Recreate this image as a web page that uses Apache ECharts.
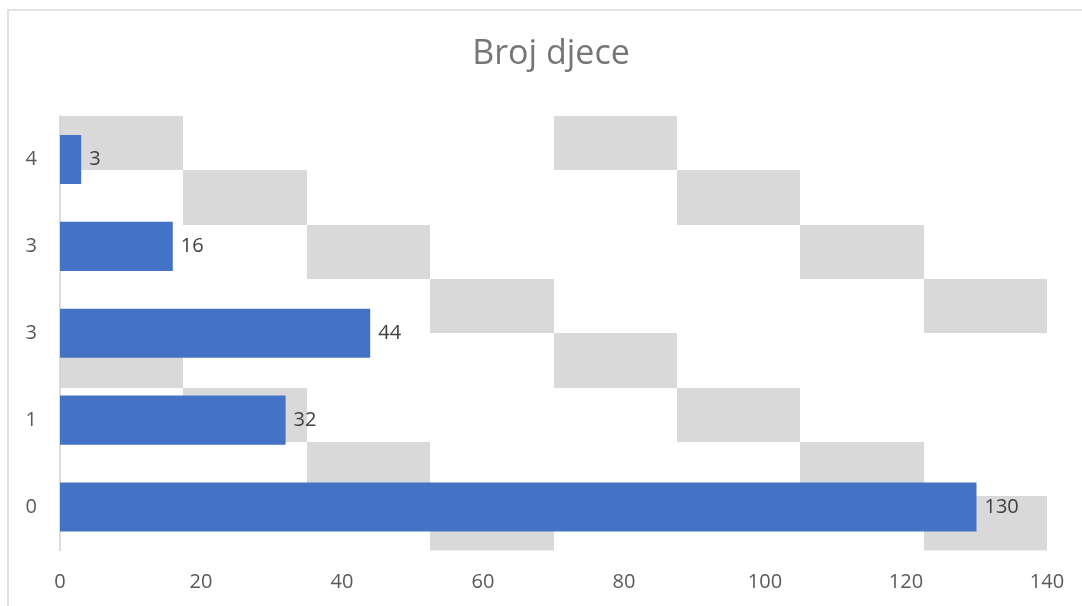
<!DOCTYPE html>
<html>
<head>
<meta charset="utf-8">
<script src="https://cdn.jsdelivr.net/npm/echarts@6/dist/echarts.min.js"></script>
<style>
html,body{margin:0;padding:0;background:#fff;}
#chart{width:1082px;height:606px;}
</style>
</head>
<body>
<div id="chart"></div>
<script>
// Data
var categories = ['0', '1', '3', '3', '4'];
var values = [130, 32, 44, 16, 3];
var xTicks = [0, 20, 40, 60, 80, 100, 120, 140];
var titleText = 'Broj djece';

var chart = echarts.init(document.getElementById('chart'), null, {renderer: 'canvas'});
var FONT = '"Open Sans", "Liberation Sans", sans-serif';

var option = {
  backgroundColor: '#ffffff',
  animation: false,
  title: {
    text: titleText,
    left: 546,
    textAlign: 'center',
    top: 32,
    textStyle: {fontFamily: FONT, fontSize: 34, fontWeight: 'normal', color: '#767676'}
  },
  graphic: [{
    type: 'rect',
    shape: {x: 8, y: 10, width: 1200, height: 700},
    style: {fill: 'none', stroke: '#d9d9d9', lineWidth: 1.5},
    silent: true,
    z: -10
  }],
  grid: {
    left: 60, right: 35, top: 116, bottom: 55.5,
    show: true, borderWidth: 0, backgroundColor: 'transparent'
  },
  xAxis: {
    type: 'value',
    min: xTicks[0], max: xTicks[xTicks.length - 1], interval: xTicks[1] - xTicks[0],
    axisLine: {show: false}, axisTick: {show: false}, splitLine: {show: false},
    axisLabel: {fontFamily: FONT, fontSize: 20, color: '#595959', margin: 22}
  },
  yAxis: {
    type: 'category',
    data: categories,
    axisLine: {show: true, lineStyle: {color: '#d0d0d0', width: 1.5}},
    axisTick: {show: false},
    axisLabel: {fontFamily: FONT, fontSize: 20, color: '#595959', margin: 23}
  },
  series: [{
    type: 'bar',
    data: values,
    barWidth: '56.5%',
    itemStyle: {color: '#4472C4'},
    label: {
      show: true, position: 'right', distance: 8,
      fontFamily: FONT, fontSize: 20, color: '#404040'
    }
  }]
};
chart.setOption(option);

// Plot-area pattern fill (large checker/diagonal pattern), aligned to the grid rect
var rect = chart.getModel().getComponent('grid').coordinateSystem.getRect();
var cv = document.createElement('canvas');
cv.width = 1082; cv.height = 606;
var ctx = cv.getContext('2d');
ctx.fillStyle = '#d9d9d9';
var n = 8, cw = rect.width / n, ch = rect.height / n;
for (var r = 0; r < n; r++) {
  for (var c = 0; c < n; c++) {
    if (((c - r) % 4 + 4) % 4 === 0) {
      var x0 = Math.round(rect.x + c * cw), x1 = Math.round(rect.x + (c + 1) * cw);
      var y0 = Math.round(rect.y + r * ch), y1 = Math.round(rect.y + (r + 1) * ch);
      ctx.fillRect(x0, y0, x1 - x0, y1 - y0);
    }
  }
}
chart.setOption({grid: {backgroundColor: {image: cv, repeat: 'no-repeat'}}});
</script>
</body>
</html>
